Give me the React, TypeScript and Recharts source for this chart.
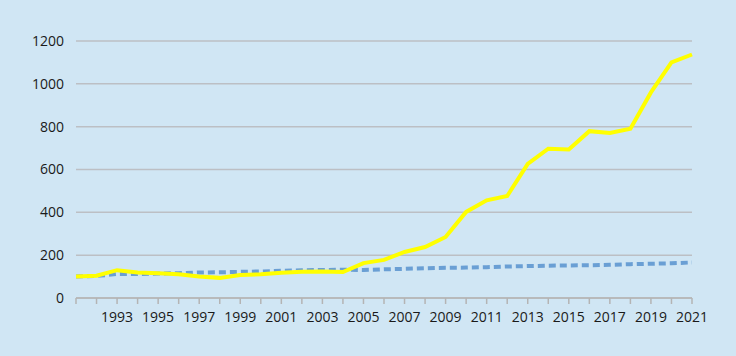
import React from "react";
import { LineChart, Line, XAxis, YAxis, CartesianGrid } from "recharts";

const years = [
  1991, 1992, 1993, 1994, 1995, 1996, 1997, 1998, 1999, 2000, 2001, 2002, 2003, 2004, 2005, 2006,
  2007, 2008, 2009, 2010, 2011, 2012, 2013, 2014, 2015, 2016, 2017, 2018, 2019, 2020, 2021,
];

const yellowValues = [
  100, 104, 130, 119, 116, 111, 100, 94, 107, 111, 118, 123, 124, 121, 163, 178,
  215, 238, 285, 402, 456, 476, 626, 697, 693, 779, 771, 790, 960, 1100, 1137,
];

const blueValues = [
  100, 103, 112, 112, 114, 116, 119, 120, 122, 124, 127, 129, 131, 132, 131, 134,
  136, 139, 141, 142, 144, 147, 149, 151, 152, 153, 155, 158, 160, 162, 166,
];

const labeledYears = [
  1993, 1995, 1997, 1999, 2001, 2003, 2005, 2007, 2009, 2011, 2013, 2015, 2017, 2019, 2021,
];

const yTicks = [0, 200, 400, 600, 800, 1000, 1200];

const data = years.map((year, i) => ({
  year,
  yellow: yellowValues[i],
  blue: blueValues[i],
}));

const font = "'Open Sans', 'Noto Sans', sans-serif";

export default function App() {
  return (
    <div style={{ position: "fixed", left: 0, top: 0, width: 736, height: 356, background: "#d0e6f4" }}>
      <LineChart width={736} height={356} data={data} margin={{ top: 41, right: 44, bottom: 0, left: 0 }}>
        <CartesianGrid vertical={false} stroke="#bcbfc4" strokeWidth={1.5} />
        <XAxis
          dataKey="year"
          type="number"
          domain={[1991, 2021]}
          ticks={years}
          interval={0}
          tickFormatter={(v: number) => (labeledYears.includes(v) ? String(v) : "")}
          height={58}
          stroke="#b4b4b4"
          strokeWidth={1.5}
          tickSize={6}
          tickMargin={8}
          tick={{ fill: "#1a1a1a", fontSize: 14, fontFamily: font }}
        />
        <YAxis
          type="number"
          domain={[0, 1200]}
          ticks={yTicks}
          width={76}
          axisLine={false}
          tickLine={false}
          tickMargin={6}
          tick={{ fill: "#1a1a1a", fontSize: 14, fontFamily: font }}
        />
        <Line
          dataKey="blue"
          stroke="#6a9fd4"
          strokeWidth={4}
          strokeDasharray="7 4"
          dot={false}
          isAnimationActive={false}
        />
        <Line
          dataKey="yellow"
          stroke="#ffff00"
          strokeWidth={4}
          dot={false}
          isAnimationActive={false}
        />
      </LineChart>
    </div>
  );
}
